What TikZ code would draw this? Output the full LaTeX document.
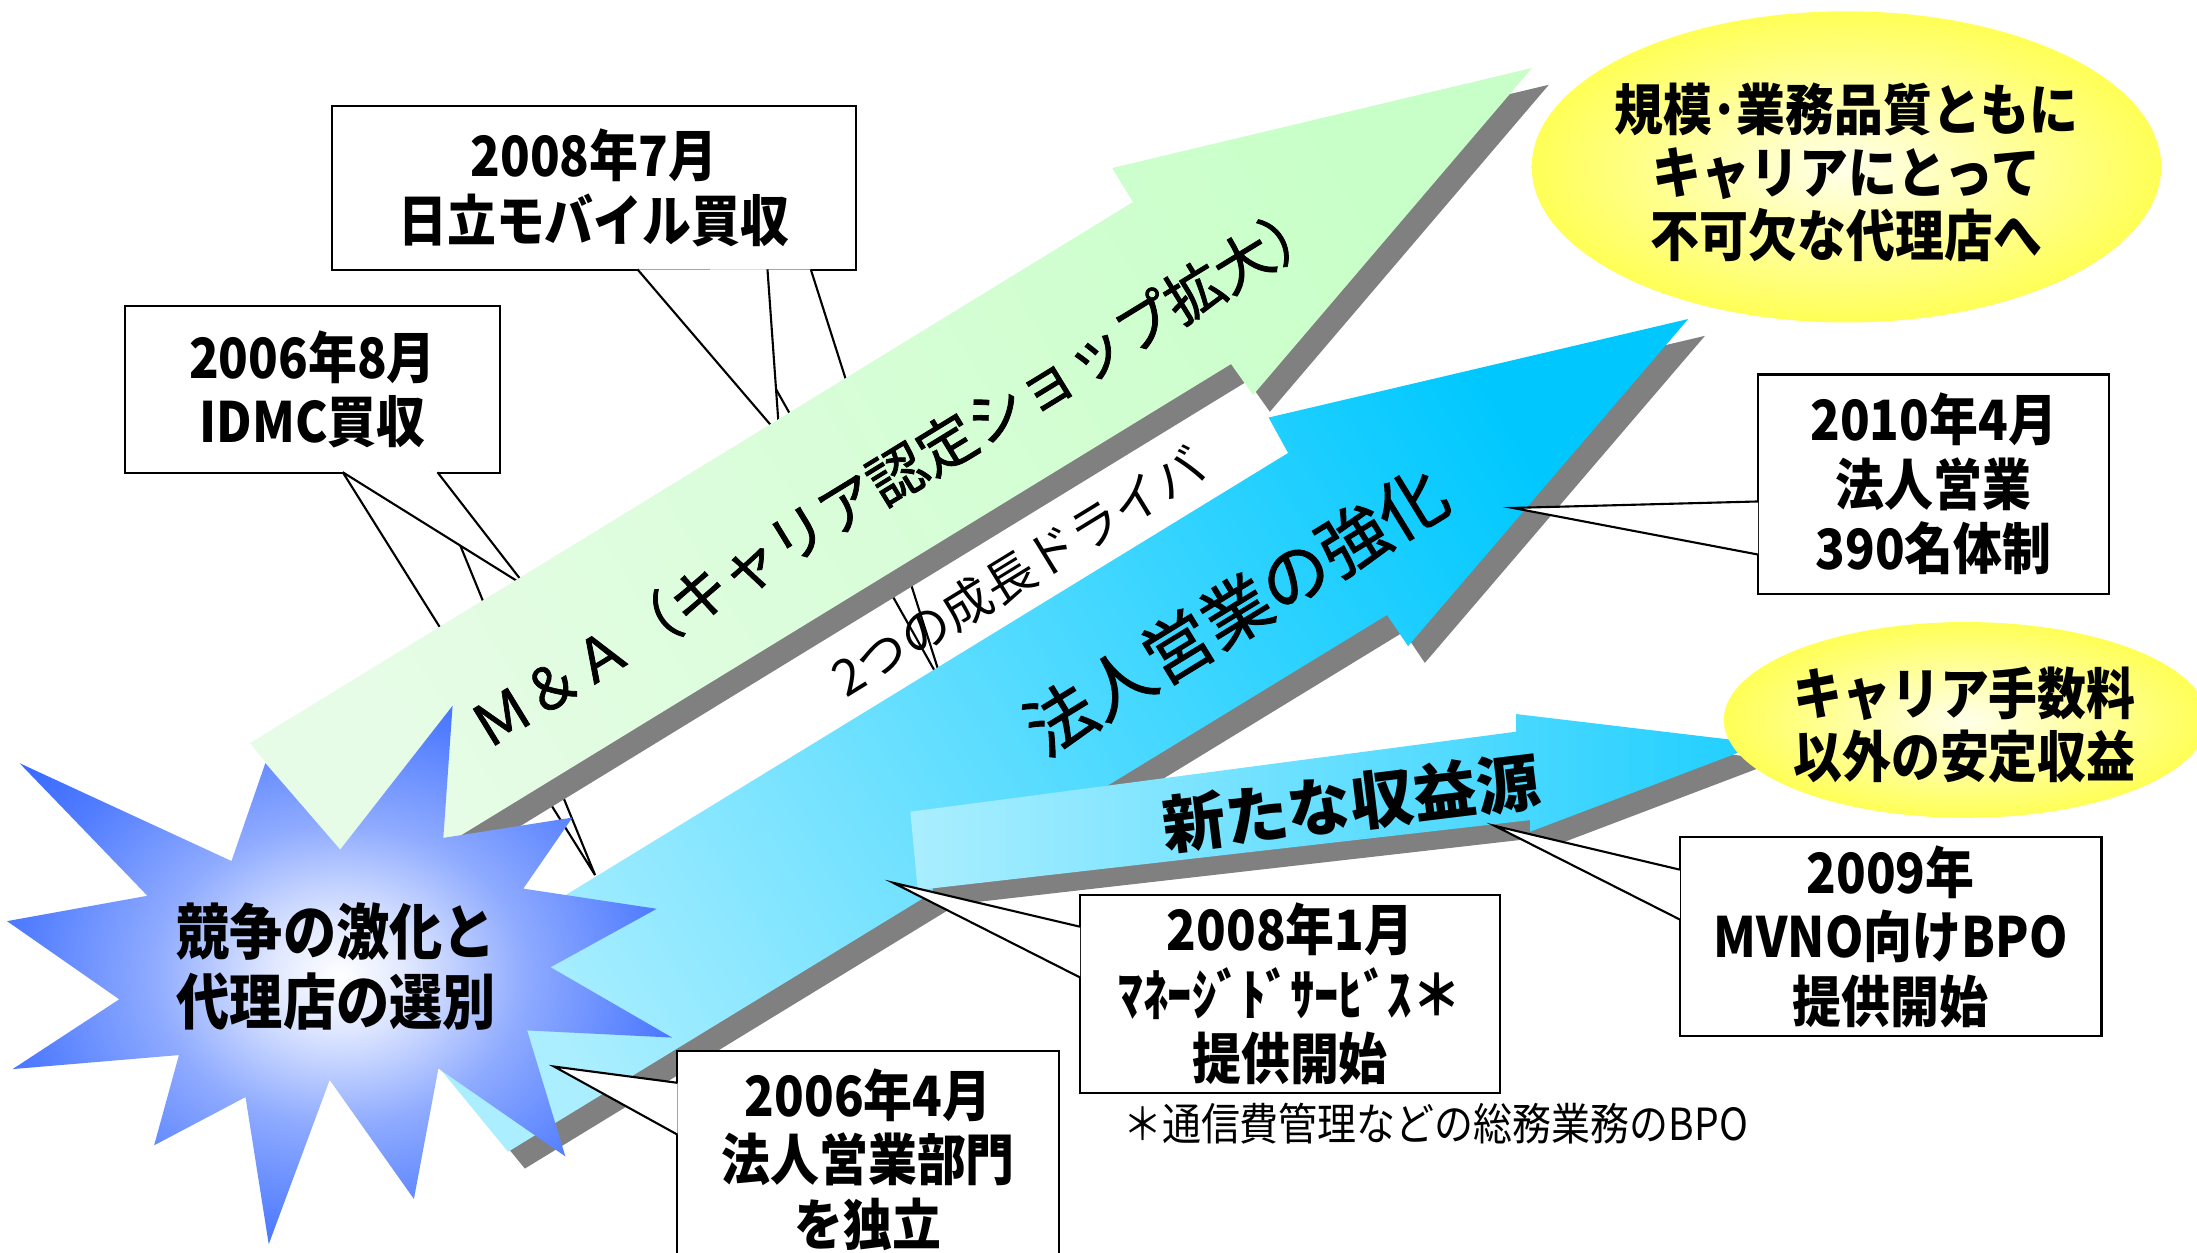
\documentclass[tikz,border=0pt]{standalone}
\usepackage{fontspec}
\newfontfamily\jp{Noto Sans CJK JP}
\newfontfamily\jpm[FakeBold=1.3]{Noto Sans CJK JP}
\newfontfamily\jpc[FakeStretch=0.88]{Noto Sans CJK JP}
\usetikzlibrary{calc,shapes.geometric}

\definecolor{shopgreen}{HTML}{C8FFC8}
\definecolor{shopgreenpale}{HTML}{E6FCE6}
\definecolor{salesblue}{HTML}{00C8FF}
\definecolor{salesbluepale}{HTML}{AAEEFF}
\definecolor{shadowgray}{HTML}{808080}
\definecolor{burstblue}{HTML}{3366FF}
\colorlet{burstdeep}{burstblue!85!white}
\colorlet{burstmid}{burstblue!55!white}
\colorlet{burstpale}{burstblue!15!white}
\colorlet{goalpale}{yellow!8!white}
\colorlet{goalmid}{yellow!55!white}

\pgfdeclareradialshading{goalglow}{\pgfpoint{0bp}{0bp}}{color(0bp)=(goalpale); color(20bp)=(goalmid); color(40bp)=(yellow); color(50bp)=(yellow)}
\pgfdeclareradialshading{burstglow}{\pgfpoint{0bp}{0bp}}{color(0bp)=(white); color(5bp)=(burstpale); color(14bp)=(burstmid); color(24bp)=(burstdeep); color(32bp)=(burstblue); color(50bp)=(burstblue)}

% arrow outlines (y grows downwards)
\newcommand\shoparrow{(264.8,635.4) -- (178.4,530.3) -- (808.6,144.2) -- (793.7,119.9) -- (1093.4,48.5) -- (894.3,281.9) -- (878.6,259.8) -- cycle}
\newcommand\salesarrow{(362.6,822) -- (276.3,716.8) -- (919.3,323.3) -- (905.4,298) -- (1204.8,227.7) -- (1004.9,461.1) -- (989.9,438.9) -- cycle}
\newcommand\revenuearrow{(655,635.2) -- (649.7,579.3) -- (1082,522.2) -- (1082,509.6) -- (1258,530.6) -- (1092,593.6) -- (1092,585.3) -- cycle}

\tikzset{
  callbox/.style={draw, line width=0.6pt, fill=white, inner sep=0pt, align=center,
    font=\jpc\bfseries\fontsize{15.8}{18.3}\selectfont},
  callline/.style={line width=0.6pt, fill=white},
  arrowshadow/.style={fill=shadowgray, shift={(12,12)}},
  goaltext/.style={align=center, font=\jpc\bfseries\fontsize{15.8}{18}\selectfont},
}

\begin{document}
\begin{tikzpicture}[x=0.014cm, y=-0.014cm]
  \useasboundingbox (0,0) rectangle (1568,893.6);

  % callouts behind the arrows
  \node[callbox, minimum width=3.752cm, minimum height=1.665cm] (b0608) at (223,277.85) {2006年8月\\IDMC買収};
  \coordinate (t0608a) at (375.5,418.7);
  \coordinate (t0608b) at (424.7,624.5);
  \draw[callline] ([yshift=0.4pt]$(b0608.south west)+(156.3,0)$) -- (t0608b) -- ([yshift=0.4pt]$(b0608.south west)+(218.8,0)$);
  \draw[callline] ([yshift=0.4pt]$(b0608.south west)+(156.3,0)$) -- (t0608a) -- ([yshift=0.4pt]$(b0608.south west)+(223.9,0)$);

  \node[callbox, minimum width=5.236cm, minimum height=1.638cm] (b0807) at (423.8,134) {2008年7月\\日立モバイル買収};
  \coordinate (t0807a) at (556.2,310.5);
  \coordinate (t0807b) at (673.4,490);
  \draw[callline] ([yshift=0.4pt]$(b0807.south west)+(269.5,0)$) -- (t0807b) -- ([yshift=0.4pt]$(b0807.south west)+(342.5,0)$);
  \draw[callline] ([yshift=0.4pt]$(b0807.south west)+(218.8,0)$) -- (t0807a) -- ([yshift=0.4pt]$(b0807.south west)+(311.6,0)$);

  % the three arrows
  \fill[arrowshadow] \shoparrow;
  \shade[top color=shopgreen, bottom color=shopgreenpale, shading angle=-58.5] \shoparrow;
  \fill[arrowshadow] \salesarrow;
  \shade[top color=salesblue, bottom color=salesbluepale, shading angle=-58.5] \salesarrow;
  \fill[arrowshadow] \revenuearrow;
  \shade[left color=salesbluepale, right color=salesblue!88!white] \revenuearrow;

  % goals
  \node[ellipse, minimum width=6.293cm, minimum height=3.111cm, inner sep=0pt, shading=goalglow] (goal) at (1317.8,119.1) {};
  \node[goaltext] (goaltxt) at (1317.8,123) {規模･業務品質ともに\\キャリアにとって\\不可欠な代理店へ};
  \node[ellipse, minimum width=4.838cm, minimum height=1.957cm, inner sep=0pt, shading=goalglow] (income) at (1403,513.8) {};
  \node[goaltext] (incometxt) at (1402,517.5) {キャリア手数料\\以外の安定収益};

  % starburst
  \shade[shading=burstglow] (323,503.7) -- (316.4,598) -- (408.5,583.5) -- (373.5,634.2) -- (468.7,648.6) -- (392.9,690.3)
    -- (479.7,740.5) -- (376.2,735.4) -- (403.5,825.3) -- (312.9,762.5) -- (295.4,855.7) -- (235.3,770.8)
    -- (191.8,888) -- (175.2,783) -- (110,817.4) -- (127.7,753) -- (9,763) -- (85.1,713.2)
    -- (5,657.4) -- (105.2,639.3) -- (14,544.7) -- (165.2,614.5) -- (189.4,544.6) -- (242.8,606.4) -- cycle;
  \node[align=center, font=\jpc\bfseries\fontsize{17.2}{20}\selectfont] (crisis) at (240,690) {競争の激化と\\代理店の選別};

  % callouts on top
  \node[callbox, minimum width=3.515cm, minimum height=2.191cm] (b1004) at (1380,345.45) {2010年4月\\法人営業\\390名体制};
  \coordinate (t1004) at (1079.7,362.5);
  \draw[callline] ([xshift=0.4pt]$(b1004.north west)+(0,91.4)$) -- (t1004) -- ([xshift=0.4pt]$(b1004.north west)+(0,129.3)$);

  \node[callbox, minimum width=3.819cm, minimum height=2.167cm] (b0604) at (619.6,827.6) {2006年4月\\法人営業部門\\を独立};
  \coordinate (t0604) at (395.5,761.2);
  \draw[callline] ([xshift=0.4pt]$(b0604.north west)+(0,23.3)$) -- (t0604) -- ([xshift=0.4pt]$(b0604.north west)+(0,60.3)$);

  \node[callbox, minimum width=4.206cm, minimum height=1.981cm] (b0801) at (920.7,709.55) {2008年1月\\ﾏﾈｰｼﾞﾄﾞｻｰﾋﾞｽ＊\\提供開始};
  \coordinate (t0801) at (637.4,630);
  \draw[callline] ([xshift=0.4pt]$(b0801.north west)+(0,23.3)$) -- (t0801) -- ([xshift=0.4pt]$(b0801.north west)+(0,59.5)$);

  \node[callbox, minimum width=4.218cm, minimum height=1.984cm] (b0900) at (1349.25,668.45) {2009年\\MVNO向けBPO\\提供開始};
  \coordinate (t0900) at (1066.8,589.4);
  \draw[callline] ([xshift=0.4pt]$(b0900.north west)+(0,23.8)$) -- (t0900) -- ([xshift=0.4pt]$(b0900.north west)+(0,59.4)$);

  \node[anchor=west, inner sep=0pt, font=\jpc\fontsize{12.6}{15}\selectfont] (note) at (801,802) {＊通信費管理などの総務業務のBPO};

  % arrow labels
  \node[rotate=31.5, font=\jpm\fontsize{16.5}{19}\selectfont] (shoplabel) at (640,338) {Ｍ＆Ａ（キャリア認定ショップ拡大）};
  \node[rotate=31.5, font=\jp\fontsize{14.2}{17}\selectfont] (driver) at (727,408) {2つの成長ドライバ};
  \node[rotate=31.5, font=\jpm\fontsize{19.5}{22}\selectfont] (saleslabel) at (882,436) {法人営業の強化};
  \node[rotate=7, font=\jp\bfseries\fontsize{18}{21}\selectfont] (revenuelabel) at (964,573) {新たな収益源};
\end{tikzpicture}
\end{document}
